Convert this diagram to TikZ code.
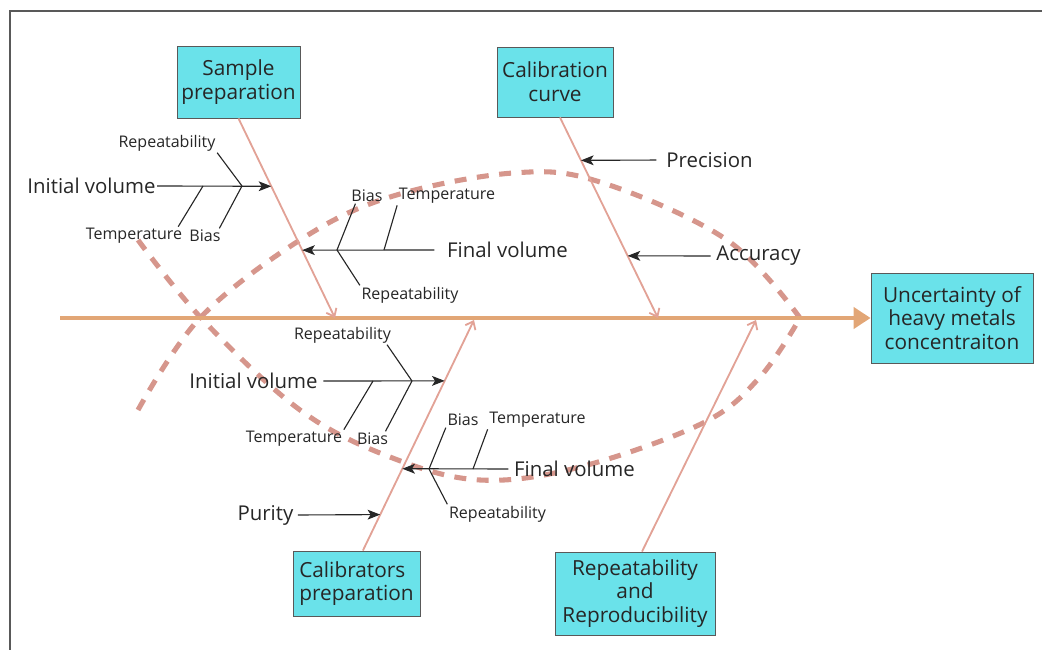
\documentclass[tikz,border=0pt]{standalone}
\usepackage{fontspec}
\setmainfont{Open Sans}
\usetikzlibrary{arrows.meta,calc}
\definecolor{boxfill}{RGB}{106,226,234}
\definecolor{bonecol}{RGB}{226,162,150}
\definecolor{spinecol}{RGB}{226,166,118}
\definecolor{fishcol}{RGB}{214,150,140}
\definecolor{inkcol}{RGB}{38,38,38}
\tikzset{
  cause/.style={draw=black!65, fill=boxfill, line width=0.6pt, text=inkcol,
    align=center, font=\fontsize{14.8}{16.8}\selectfont, inner sep=2pt},
  big/.style={text=inkcol, font=\fontsize{14.5}{16}\selectfont, inner sep=1pt},
  small/.style={text=inkcol, font=\fontsize{11.4}{13}\selectfont, inner sep=1pt},
  bone/.style={draw=bonecol, line width=1.3pt, -{Straight Barb[length=5pt,width=8pt]}},
  spine/.style={draw=spinecol, line width=2.6pt, -{Triangle[length=12pt,width=15pt]}},
  twig/.style={draw=inkcol, line width=0.8pt},
  feed/.style={twig, -{Stealth[length=9pt,width=7pt,inset=2.2pt]}},
  fish/.style={draw=fishcol, line width=3.6pt, dash pattern=on 8.5pt off 7.5pt}
}
\begin{document}
\begin{tikzpicture}[x=0.025cm, y=-0.025cm]
  \useasboundingbox (0,0) rectangle (1042,650);
  \draw[black!65, line width=1.4pt] (1042,11) -- (10,11) -- (10,650);

  \draw[fish] plot[smooth, tension=0.6] coordinates
    {(138,410) (200,318) (300,240) (390,197) (513,173) (600,182) (727,240) (800,318)};
  \draw[fish] plot[smooth, tension=0.6] coordinates
    {(138,240) (203,320) (300,410) (390,457) (480,480) (580,467) (703,423) (760,377) (800,318)};

  \node[cause, minimum width=3.075cm, minimum height=1.8cm] (sp) at (238.5,82) {Sample\\preparation};
  \node[cause, minimum width=2.9cm, minimum height=1.75cm] (cc) at (555,82) {Calibration\\curve};
  \node[cause, minimum width=4.05cm, minimum height=2.25cm] (un) at (952,318)
    {Uncertainty of\\heavy metals\\concentraiton};
  \node[cause, minimum width=3.175cm, minimum height=1.625cm, align=left] (cp) at (356.5,583.5)
    {Calibrators\\preparation};
  \node[cause, minimum width=4cm, minimum height=2.075cm] (rr) at (635,593.5)
    {Repeatability\\and\\Reproducibility};

  \coordinate (tail) at (60,318);
  \coordinate (sp1) at (335,318);
  \coordinate (cc0) at ([xshift=0.125cm]cc.south);
  \coordinate (cc1) at (658,318);
  \coordinate (cp0) at ([xshift=0.16cm]cp.north);
  \coordinate (cp1) at (474,320);
  \coordinate (rr0) at ([xshift=0.175cm]rr.north);
  \coordinate (rr1) at (756,320);

  \draw[spine] (tail) -- (un.west);
  \draw[bone] (sp.south) -- (sp1);
  \draw[bone] (cc0) -- (cc1);
  \draw[bone] (cp0) -- (cp1);
  \draw[bone] (rr0) -- (rr1);

  \coordinate (a1) at ($(sp.south)!0.34!(sp1)$);
  \coordinate (a2) at ($(sp.south)!0.66!(sp1)$);
  \coordinate (a3) at ($(cc0)!0.214!(cc1)$);
  \coordinate (a4) at ($(cc0)!0.69!(cc1)$);
  \coordinate (a5) at ($(cp0)!0.736!(cp1)$);
  \coordinate (a6) at ($(cp0)!0.355!(cp1)$);
  \coordinate (a7) at ($(cp0)!0.156!(cp1)$);

  \node[big] (iv1) at (91.5,186) {Initial volume};
  \node[small] (re1) at (167,143) {Repeatability};
  \node[small] (te1) at (134,236) {Temperature};
  \node[small] (bi1) at (205,236) {Bias};
  \coordinate (j1a) at (242,186);
  \coordinate (j1b) at (203,186);
  \draw[feed] (iv1.east) -- (a1);
  \draw[twig] (j1a) -- (re1.south east);
  \draw[twig] (j1a) -- ([xshift=-2pt]bi1.north east);
  \draw[twig] (j1b) -- ([xshift=-4pt]te1.north east);

  \node[big] (fv1) at (507.5,250) {Final volume};
  \node[small] (bi2) at (367,196) {Bias};
  \node[small] (te2) at (447,196) {Temperature};
  \node[small] (re2) at (410,295) {Repeatability};
  \coordinate (j2a) at (337,250);
  \coordinate (j2b) at (384,250);
  \draw[feed, shorten <=8pt] (fv1.west) -- (a2);
  \draw[twig] (j2a) -- ([xshift=4pt]bi2.south west);
  \draw[twig] (j2b) -- (te2.south west);
  \draw[twig] (j2a) -- (re2.north west);

  \node[big] (pr) at (709.5,160) {Precision};
  \node[big] (ac) at (758.5,256) {Accuracy};
  \draw[feed, shorten <=6pt] (pr.west) -- (a3);
  \draw[feed, shorten <=3pt] (ac.west) -- (a4);

  \node[big] (iv2) at (253.5,381) {Initial volume};
  \node[small] (re3) at (342.5,335) {Repeatability};
  \node[small] (te3) at (294,439) {Temperature};
  \node[small] (bi3) at (372.5,439) {Bias};
  \coordinate (j3a) at (412,381);
  \coordinate (j3b) at (373,381);
  \draw[feed, shorten <=3pt] (iv2.east) -- (a5);
  \draw[twig] (j3a) -- ([xshift=-4pt]re3.south east);
  \draw[twig] (j3a) -- ([xshift=-3pt]bi3.north east);
  \draw[twig] (j3b) -- (te3.north east);

  \node[big] (fv2) at (574.5,469) {Final volume};
  \node[small] (bi4) at (463,420) {Bias};
  \node[small] (te4) at (537.5,420) {Temperature};
  \node[small] (re4) at (497.5,514) {Repeatability};
  \coordinate (j4a) at (429,469);
  \coordinate (j4b) at (473,469);
  \draw[feed, shorten <=3pt] (fv2.west) -- (a6);
  \draw[twig] (j4a) -- (bi4.south west);
  \draw[twig] (j4b) -- (te4.south west);
  \draw[twig] (j4a) -- (re4.north west);

  \node[big] (pu) at (265.5,515) {Purity};
  \draw[feed, shorten <=2pt] (pu.east) -- (a7);
\end{tikzpicture}
\end{document}
